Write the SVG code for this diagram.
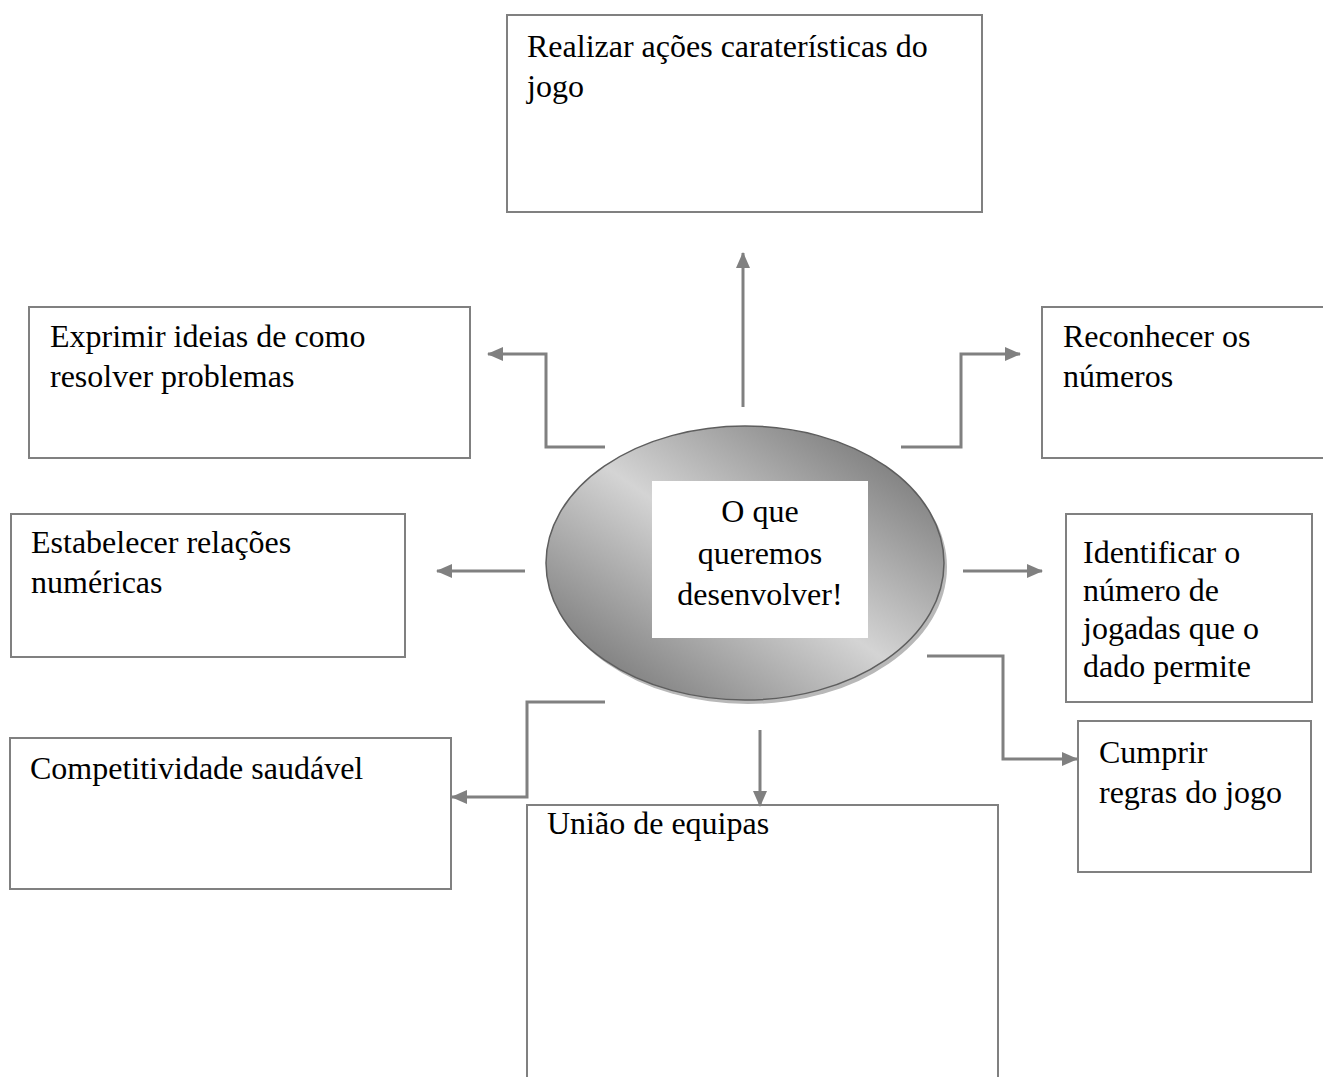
<svg xmlns="http://www.w3.org/2000/svg" width="1323" height="1077" viewBox="0 0 1323 1077">
  <style>
    .box { fill: #ffffff; stroke: #808080; stroke-width: 2; }
    .txt { font-family: "Liberation Serif", "Times New Roman", serif; font-size: 32px; fill: #000000; }
    .ctr { text-anchor: middle; }
    .conn { fill: none; stroke: #808080; stroke-width: 3; }
  </style>
  <defs>
    <marker id="arrow" viewBox="0 0 16 14" refX="15" refY="7" markerWidth="16" markerHeight="14" markerUnits="userSpaceOnUse" orient="auto">
      <path d="M0,0 L16,7 L0,14 Z" fill="#808080"/>
    </marker>
    <linearGradient id="hubFill" x1="0" y1="1" x2="1" y2="0">
      <stop offset="0" stop-color="#646464"/>
      <stop offset="0.5" stop-color="#d4d4d4"/>
      <stop offset="1" stop-color="#646464"/>
    </linearGradient>
  </defs>

  <rect width="1323" height="1077" fill="#ffffff"/>

  <!-- central hub -->
  <g id="hub">
    <ellipse cx="748" cy="567" rx="199" ry="137" fill="#b8b8b8"/>
    <ellipse cx="745" cy="563" rx="199" ry="137" fill="url(#hubFill)" stroke="#5e5e5e" stroke-width="1.5"/>
    <rect x="652" y="481" width="216" height="157" fill="#ffffff"/>
    <text class="txt ctr" x="760" y="522">O que</text>
    <text class="txt ctr" x="760" y="564">queremos</text>
    <text class="txt ctr" x="760" y="605">desenvolver!</text>
  </g>

  <g id="n-realizar">
    <rect class="box" x="507" y="15" width="475" height="197"/>
    <text class="txt" x="527" y="57">Realizar ações caraterísticas do</text>
    <text class="txt" x="527" y="97">jogo</text>
  </g>

  <g id="n-exprimir">
    <rect class="box" x="29" y="307" width="441" height="151"/>
    <text class="txt" x="50" y="347">Exprimir ideias de como</text>
    <text class="txt" x="50" y="387">resolver problemas</text>
  </g>

  <g id="n-reconhecer">
    <rect class="box" x="1042" y="307" width="290" height="151"/>
    <text class="txt" x="1063" y="347">Reconhecer os</text>
    <text class="txt" x="1063" y="387">números</text>
  </g>

  <g id="n-estabelecer">
    <rect class="box" x="11" y="514" width="394" height="143"/>
    <text class="txt" x="31" y="553">Estabelecer relações</text>
    <text class="txt" x="31" y="593">numéricas</text>
  </g>

  <g id="n-identificar">
    <rect class="box" x="1066" y="514" width="246" height="188"/>
    <text class="txt" x="1083" y="563">Identificar o</text>
    <text class="txt" x="1083" y="601">número de</text>
    <text class="txt" x="1083" y="639">jogadas que o</text>
    <text class="txt" x="1083" y="677">dado permite</text>
  </g>

  <g id="n-cumprir">
    <rect class="box" x="1078" y="721" width="233" height="151"/>
    <text class="txt" x="1099" y="763">Cumprir</text>
    <text class="txt" x="1099" y="803">regras do jogo</text>
  </g>

  <g id="n-competitividade">
    <rect class="box" x="10" y="738" width="441" height="151"/>
    <text class="txt" x="30" y="779">Competitividade saudável</text>
  </g>

  <g id="n-uniao">
    <rect class="box" x="527" y="805" width="471" height="290"/>
    <text class="txt" x="547" y="834">União de equipas</text>
  </g>

  <!-- connectors from the hub outwards -->
  <g id="connectors">
    <path class="conn" marker-end="url(#arrow)" d="M743,407 L743,253"/>
    <path class="conn" marker-end="url(#arrow)" d="M605,447 L546,447 L546,354 L488,354"/>
    <path class="conn" marker-end="url(#arrow)" d="M901,447 L961,447 L961,354 L1020,354"/>
    <path class="conn" marker-end="url(#arrow)" d="M525,571 L437,571"/>
    <path class="conn" marker-end="url(#arrow)" d="M963,571 L1042,571"/>
    <path class="conn" marker-end="url(#arrow)" d="M927,656 L1003,656 L1003,759 L1077,759"/>
    <path class="conn" marker-end="url(#arrow)" d="M605,702 L527,702 L527,797 L452,797"/>
    <path class="conn" marker-end="url(#arrow)" d="M760,730 L760,806"/>
  </g>
</svg>
